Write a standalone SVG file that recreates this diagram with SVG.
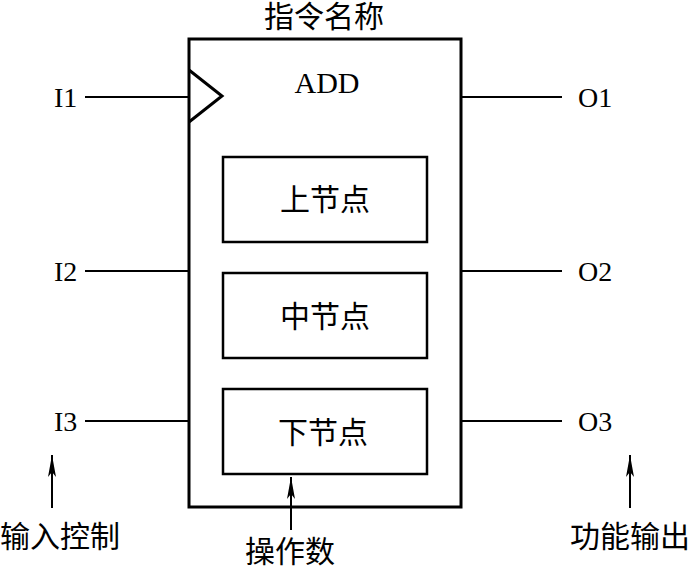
<svg xmlns="http://www.w3.org/2000/svg" width="690" height="570" viewBox="0 0 690 570">
<defs>
<style>
text{font-family:"Liberation Serif","Noto Sans CJK SC",serif;fill:#000}
.lbl{font-size:28px}
.cjk{font-size:30px}
.ln{stroke:#000;stroke-width:2;fill:none}
.box{stroke:#000;stroke-width:2.5;fill:#fff}
</style>
<marker id="ah" viewBox="0 0 22 10" refX="22" refY="5" markerWidth="22" markerHeight="10" markerUnits="userSpaceOnUse" orient="auto">
<path d="M22,5 L0,1 L5,5 L0,9 Z" fill="#000"/>
</marker>
</defs>
<rect width="690" height="570" fill="#fff"/>
<g id="instruction">
<rect x="189" y="39" width="272" height="468" fill="#fff" stroke="#000" stroke-width="3"/>
<polyline points="189,70 222,96 189,122" fill="none" stroke="#000" stroke-width="3"/>
<text class="cjk" x="324" y="27" text-anchor="middle">指令名称</text>
<text x="327" y="93" text-anchor="middle" font-size="30">ADD</text>
</g>
<g id="upper"><rect class="box" x="223" y="157" width="204" height="85"/><text class="cjk" x="325" y="210" text-anchor="middle">上节点</text></g>
<g id="middle"><rect class="box" x="223" y="273" width="204" height="85"/><text class="cjk" x="325" y="327" text-anchor="middle">中节点</text></g>
<g id="lower"><rect class="box" x="223" y="389" width="204" height="85"/><text class="cjk" x="323" y="443" text-anchor="middle">下节点</text></g>
<g id="i1"><text class="lbl" x="54" y="107">I1</text></g>
<g id="i2"><text class="lbl" x="54" y="281">I2</text></g>
<g id="i3"><text class="lbl" x="54" y="431">I3</text></g>
<g id="o1"><text class="lbl" x="578" y="107">O1</text></g>
<g id="o2"><text class="lbl" x="578" y="281">O2</text></g>
<g id="o3"><text class="lbl" x="578" y="431">O3</text></g>
<g id="input-control"><text class="cjk" x="0" y="547">输入控制</text></g>
<g id="operand"><text class="cjk" x="290" y="562" text-anchor="middle">操作数</text></g>
<g id="function-output"><text class="cjk" x="690" y="547" text-anchor="end">功能输出</text></g>
<g id="connectors">
<line class="ln" x1="85" y1="97" x2="188" y2="97"/>
<line class="ln" x1="85" y1="271" x2="188" y2="271"/>
<line class="ln" x1="85" y1="421" x2="188" y2="421"/>
<line class="ln" x1="461" y1="97" x2="562" y2="97"/>
<line class="ln" x1="461" y1="271" x2="562" y2="271"/>
<line class="ln" x1="461" y1="421" x2="562" y2="421"/>
<line class="ln" x1="52" y1="508" x2="52" y2="455" marker-end="url(#ah)"/>
<line class="ln" x1="630" y1="508" x2="630" y2="455" marker-end="url(#ah)"/>
<line class="ln" x1="291" y1="530" x2="291" y2="477" marker-end="url(#ah)"/>
</g>
</svg>
